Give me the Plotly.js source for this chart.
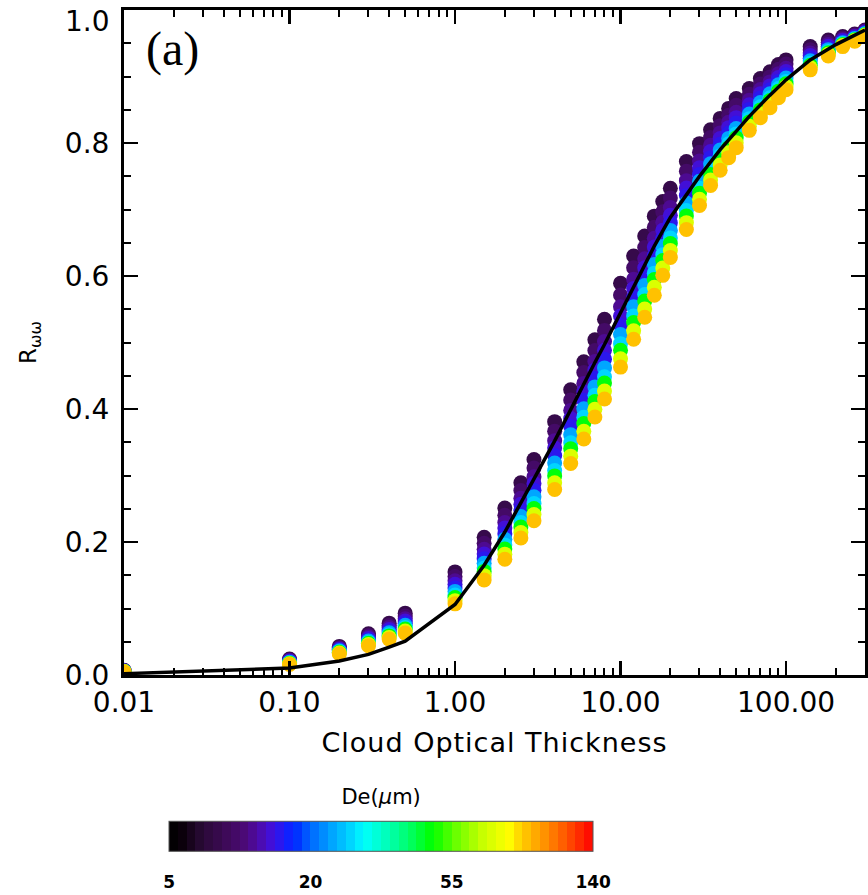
<!DOCTYPE html>
<html>
<head>
<meta charset="utf-8">
<script src="https://cdn.plot.ly/plotly-3.0.1.min.js"></script>
<style>
html,body{margin:0;padding:0;background:#fff;}
#chart{width:868px;height:895px;}
#chart .xtitle{letter-spacing:1px;}
</style>
</head>
<body>
<div id="chart"></div>
<script>
// Cloud optical thickness grid
const tau = [0.01,0.1,0.2,0.3,0.4,0.5,1,1.5,2,2.5,3,4,5,6,7,8,10,12,14,16,18,20,25,30,35,40,45,50,60,70,80,90,100,140,180,220,260,300];

// Effective diameters (um) of the plotted series
const deValues = [10, 12, 14, 16, 17, 25, 30, 50, 80, 100];

// R values for each De
const r_de10  = [.007,.024,.043,.062,.078,.093,.155,.207,.251,.289,.324,.381,.429,.471,.504,.535,.589,.630,.660,.690,.712,.732,.772,.799,.820,.837,.852,.867,.882,.897,.907,.918,.925,.945,.955,.960,.964,.970];
const r_de12  = [.0067,.0229,.0415,.0595,.0746,.0888,.1483,.198,.2402,.2774,.3111,.3667,.4135,.4548,.4878,.5182,.5714,.6125,.6429,.6733,.6965,.7174,.7577,.786,.8082,.8261,.8416,.8566,.8732,.8887,.8994,.911,.9187,.9401,.9516,.9579,.9625,.9687];
const r_de14  = [.0065,.0218,.0399,.057,.0713,.0846,.1416,.1891,.2294,.2658,.2982,.3524,.3979,.4385,.4715,.5014,.5537,.595,.6258,.6567,.6809,.7029,.7434,.773,.7965,.8152,.8313,.8463,.8644,.8805,.8919,.904,.9124,.9352,.9483,.9558,.9609,.9675];
const r_de16  = [.0062,.0209,.0387,.055,.0686,.0813,.1363,.182,.221,.2566,.2881,.3412,.3857,.4258,.4588,.4882,.5399,.5813,.6124,.6436,.6687,.6914,.7322,.7627,.7872,.8066,.8231,.8381,.8574,.874,.8859,.8985,.9075,.9314,.9456,.9542,.9597,.9665];
const r_de17  = [.006,.020,.0375,.053,.066,.078,.131,.175,.2125,.2475,.278,.330,.3735,.413,.446,.475,.526,.5675,.599,.6305,.6565,.680,.721,.7525,.778,.798,.815,.830,.8505,.8675,.880,.893,.9025,.9275,.943,.9525,.9585,.9655];
const r_de25  = [.0058,.0191,.0363,.051,.0634,.0747,.1257,.168,.204,.2384,.2679,.3188,.3613,.4002,.4332,.4618,.5121,.5538,.5856,.6174,.6443,.6686,.7098,.7423,.7688,.7894,.8069,.8219,.8436,.861,.874,.8875,.8976,.9237,.9404,.9509,.9573,.9645];
const r_de30  = [.0055,.0182,.0351,.049,.0607,.0714,.1204,.1609,.1956,.2292,.2578,.3076,.3491,.3875,.4205,.4486,.4983,.540,.5722,.6043,.6321,.6571,.6986,.732,.7595,.7808,.7987,.8137,.8366,.8545,.8681,.882,.8926,.9198,.9377,.9492,.9561,.9635];
const r_de50  = [.0054,.0176,.0342,.0476,.0588,.069,.1166,.1558,.1894,.2226,.2504,.2994,.3402,.3782,.4112,.439,.4882,.530,.5624,.5948,.6232,.6488,.6904,.7246,.7528,.7746,.7928,.8078,.8316,.8498,.8638,.878,.889,.917,.9358,.948,.9552,.9628];
const r_de80  = [.0052,.0168,.0331,.0458,.0564,.066,.1118,.1494,.1817,.2143,.2412,.2892,.3291,.3666,.3996,.427,.4756,.5175,.5502,.5829,.6121,.6384,.6802,.7153,.7444,.7668,.7854,.8004,.8253,.8439,.8584,.873,.8845,.9135,.9334,.9465,.9541,.9619];
const r_de100 = [.005,.016,.032,.044,.054,.063,.107,.143,.174,.206,.232,.279,.318,.355,.388,.415,.463,.505,.538,.571,.601,.628,.670,.706,.736,.759,.778,.793,.819,.838,.853,.868,.880,.910,.931,.945,.953,.961];
const rSeries = [r_de10, r_de12, r_de14, r_de16, r_de17, r_de25, r_de30, r_de50, r_de80, r_de100];

// Parameterization curve (black line)
const lineTau = [0.01,0.1,0.2,0.3,0.4,0.5,1,1.5,2,2.5,3,4,5,6,7,8,10,12,14,16,18,20,25,30,40,50,60,80,100,140,200,300];
const lineR   = [0.002,0.0105,0.021,0.031,0.042,0.051,0.106,0.165,0.215,0.258,0.295,0.352,0.400,0.438,0.470,0.497,0.545,0.585,0.617,0.645,0.668,0.688,0.722,0.75,0.79,0.818,0.84,0.872,0.895,0.925,0.948,0.97];

// Colour bar labels (equally spaced on the bar)
const cbLabels = [5, 20, 55, 140];
const yTicks = [0, 0.2, 0.4, 0.6, 0.8, 1.0];

// map De onto the colour bar's label index (piecewise between labels)
function barPos(d){
  for(let i=0;i<cbLabels.length-1;i++){
    if(d<=cbLabels[i+1]) return i + (d-cbLabels[i])/(cbLabels[i+1]-cbLabels[i]);
  }
  return cbLabels.length-1;
}

const stops = [
 [0,'#000000'],[0.03,'#0a000a'],[0.08,'#2a0a36'],[0.13,'#3c0a55'],[0.18,'#4c0a78'],
 [0.21,'#4e0aa4'],[0.245,'#4010e0'],[0.28,'#1020ff'],[0.30,'#0030ff'],[0.33,'#0060ff'],[0.38,'#00a0ff'],
 [0.43,'#00d8ff'],[0.46,'#00ffff'],[0.52,'#00ffb0'],[0.57,'#00ff60'],[0.62,'#00ff00'],
 [0.68,'#70ff00'],[0.74,'#c8ff00'],[0.80,'#ffff00'],[0.83,'#ffd000'],[0.88,'#ff9800'],
 [0.94,'#ff5000'],[1,'#ff0000']
];
function hex2rgb(h){return [1,3,5].map(i=>parseInt(h.substr(i,2),16));}
function colAt(f){
  for(let i=0;i<stops.length-1;i++){
    const a=stops[i], b=stops[i+1];
    if(f<=b[0]){const t=(f-a[0])/(b[0]-a[0]);const ca=hex2rgb(a[1]),cb=hex2rgb(b[1]);
      return 'rgb('+ca.map((v,k)=>Math.round(v+(cb[k]-v)*t)).join(',')+')';}
  }
  return stops[stops.length-1][1];
}
// stepped (banded) colour table like the original
const nBands = 48;
const colorscale = [];
for(let i=0;i<nBands;i++){
  const c = colAt((i+0.5)/nBands);
  colorscale.push([i/nBands, c]); colorscale.push([(i+1)/nBands, c]);
}

const px=[], py=[], pc=[];
deValues.forEach((d,k)=>{
  tau.forEach((t,i)=>{ px.push(t); py.push(rSeries[k][i]); pc.push(barPos(d)); });
});

const pts = {
  type:'scatter', mode:'markers', x:px, y:py, showlegend:false, hoverinfo:'skip',
  marker:{size:15, color:pc, cmin:0, cmax:cbLabels.length-1, colorscale:colorscale, line:{width:0},
    showscale:true,
    colorbar:{orientation:'h', x:0.347, xanchor:'center', y:-0.2549, yanchor:'middle',
      len:424, lenmode:'pixels', thickness:30, xpad:0, ypad:0,
      outlinewidth:1, outlinecolor:'#555',
      tickvals:cbLabels.map((v,i)=>i), ticktext:cbLabels.map(String),
      ticks:'outside', ticklen:16, tickcolor:'rgba(0,0,0,0)',
      tickfont:{family:'DejaVu Sans', size:17, color:'#000', weight:'bold'},
      title:{text:'De(<i>μ</i>m)', side:'top', font:{family:'DejaVu Sans', size:21, color:'#000'}}
    }
  }
};

const line = {type:'scatter', mode:'lines', x:lineTau, y:lineR, showlegend:false, hoverinfo:'skip',
  line:{color:'#000', width:3.5}};

const tickFont = {family:'DejaVu Sans', size:28, color:'#000'};
const layout = {
  width:868, height:895,
  margin:{l:124, r:3, t:10, b:218},
  paper_bgcolor:'#fff', plot_bgcolor:'#fff',
  xaxis:{type:'log', range:[-2, Math.log10(300)], dtick:1, tickformat:'.2f',
    ticks:'inside', ticklen:14, tickwidth:2.5, tickcolor:'#000',
    minor:{ticks:'inside', ticklen:7, tickwidth:2, tickcolor:'#000', dtick:'D1'},
    showline:true, linecolor:'#000', linewidth:3, mirror:'allticks',
    showgrid:false, zeroline:false, tickfont:tickFont,
    title:{text:'Cloud Optical Thickness', font:{family:'DejaVu Sans', size:27, color:'#000'}, standoff:16}},
  yaxis:{range:[0,1], tickmode:'array', tickvals:yTicks,
    ticktext:yTicks.map(v=> v===1 ? '' : v.toFixed(1)),
    ticks:'inside', ticklen:14, tickwidth:2.5, tickcolor:'#000',
    minor:{ticks:'inside', ticklen:7, tickwidth:2, tickcolor:'#000', dtick:0.05, tick0:0},
    showline:true, linecolor:'#000', linewidth:3, mirror:'allticks',
    showgrid:false, zeroline:false, tickfont:tickFont, ticklabelstandoff:6,
    title:{text:'R<sub>ωω</sub>', font:{family:'DejaVu Sans', size:23, color:'#000'}, standoff:22}},
  annotations:[
    {xref:'paper', yref:'paper', x:0.066, y:0.9415, xanchor:'center', yanchor:'middle',
     text:'(a)', showarrow:false, font:{family:'Liberation Serif', size:48, color:'#000'}},
    // top y tick label: sits just inside the figure's top edge, as in the original
    {xref:'paper', yref:'paper', x:-0.0162, y:0.982, xanchor:'right', yanchor:'middle',
     text:yTicks[yTicks.length-1].toFixed(1), showarrow:false, font:tickFont}
  ]
};

Plotly.newPlot('chart', [pts, line], layout, {displayModeBar:false, staticPlot:true});
</script>
</body>
</html>
